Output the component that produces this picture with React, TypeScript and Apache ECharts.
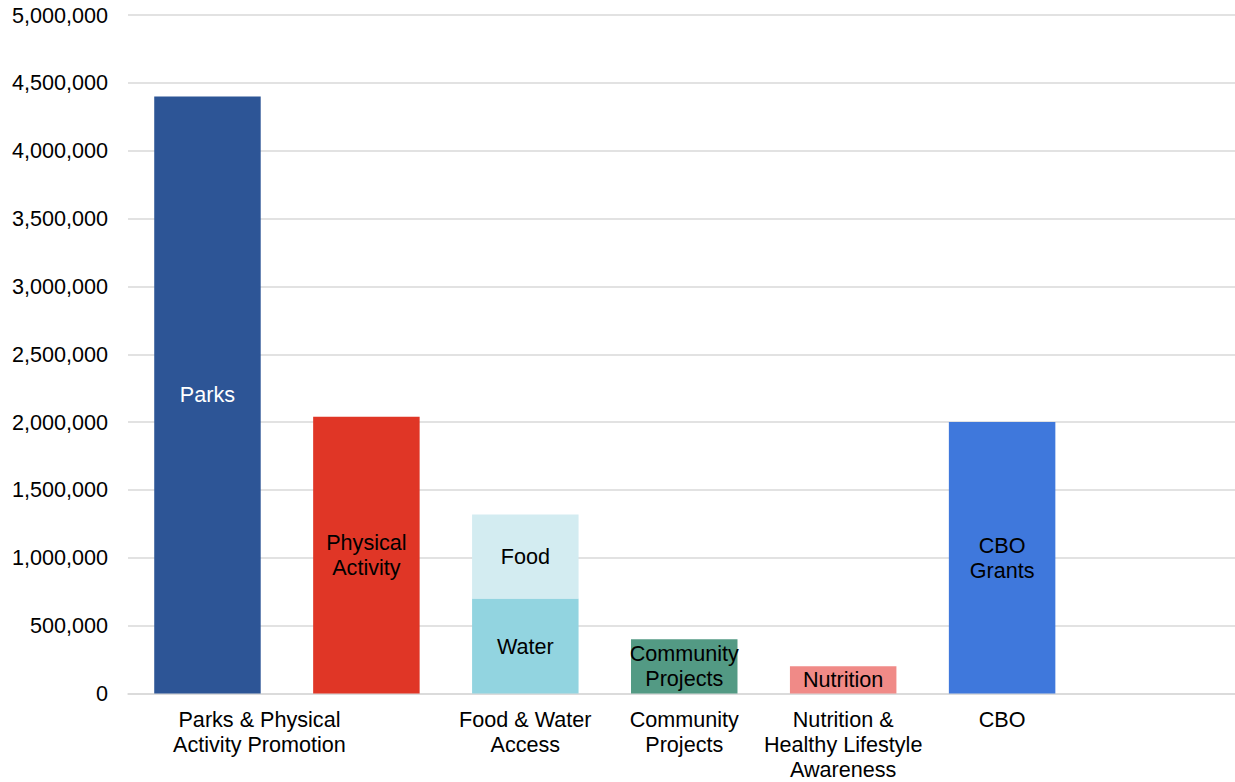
import React, { useEffect, useRef } from "react";
import * as echarts from "echarts";

// Slots along the category axis (the last one is left empty)
const slots = ["Parks", "Physical Activity", "Food & Water", "Community", "Nutrition", "CBO", "Spare"];
const slotLabels = [
  "Parks & Physical\nActivity Promotion",
  "",
  "Food & Water\nAccess",
  "Community\nProjects",
  "Nutrition &\nHealthy Lifestyle\nAwareness",
  "CBO",
  "",
];

// Funding amounts per segment
const parks = [4400000, null, null, null, null, null, null];
const physicalActivity = [null, 2040000, null, null, null, null, null];
const water = [null, null, 700000, null, null, null, null];
const food = [null, null, 620000, null, null, null, null];
const communityProjects = [null, null, null, 400000, null, null, null];
const nutrition = [null, null, null, null, 200000, null, null];
const cboGrants = [null, null, null, null, null, 2000000, null];

const yTicks = { min: 0, max: 5000000, interval: 500000 };

const FONT = "'Liberation Sans', Arial, sans-serif";
const FONT_SIZE = 21.6;

function segment(name: string, label: string, data: (number | null)[], color: string, textColor = "#000") {
  return {
    name,
    type: "bar",
    stack: "total",
    barCategoryGap: "33%",
    data,
    itemStyle: { color },
    label: {
      show: true,
      position: "inside",
      formatter: label,
      color: textColor,
      fontSize: FONT_SIZE,
      lineHeight: 25,
      fontFamily: FONT,
    },
  };
}

export default function App() {
  const ref = useRef<HTMLDivElement>(null);

  useEffect(() => {
    if (!ref.current) return;
    const chart = echarts.init(ref.current, null, { renderer: "svg" });
    chart.setOption({
      animation: false,
      backgroundColor: "#fff",
      textStyle: { fontFamily: FONT },
      // the plot runs slightly past the right edge of the window
      grid: { left: 128, right: 4.5, top: 15, bottom: 88.5, containLabel: false },
      xAxis: {
        type: "category",
        data: slots.map((s, i) =>
          i === 0
            ? { value: s, textStyle: { padding: [0, 0, 0, 104] } }
            : { value: s }
        ),
        axisLine: { show: true, lineStyle: { color: "#d9d9d9", width: 1.5 } },
        axisTick: { show: false },
        axisLabel: {
          interval: 0,
          margin: 13,
          fontSize: FONT_SIZE,
          lineHeight: 25,
          color: "#000",
          fontFamily: FONT,
          formatter: (_v: string, i: number) => slotLabels[i],
        },
      },
      yAxis: {
        type: "value",
        min: yTicks.min,
        max: yTicks.max,
        interval: yTicks.interval,
        axisLine: { show: false },
        axisTick: { show: false },
        splitLine: { lineStyle: { color: "#d9d9d9", width: 1.5 } },
        axisLabel: {
          margin: 20,
          fontSize: FONT_SIZE,
          color: "#000",
          fontFamily: FONT,
          formatter: (v: number) => v.toLocaleString("en-US"),
        },
      },
      series: [
        segment("Parks", "Parks", parks, "#2D5596", "#fff"),
        segment("Physical Activity", "Physical\nActivity", physicalActivity, "#E03626"),
        segment("Water", "Water", water, "#92D4E0"),
        segment("Food", "Food", food, "#D3ECF1"),
        segment("Community Projects", "Community\nProjects", communityProjects, "#539A84"),
        segment("Nutrition", "Nutrition", nutrition, "#F08A87"),
        segment("CBO Grants", "CBO\nGrants", cboGrants, "#3F78DC"),
      ],
    });
    return () => chart.dispose();
  }, []);

  return (
    <div style={{ position: "fixed", left: 0, top: 0, width: 1235, height: 782, overflow: "hidden" }}>
      <div ref={ref} style={{ width: 1245, height: 782 }} />
    </div>
  );
}
